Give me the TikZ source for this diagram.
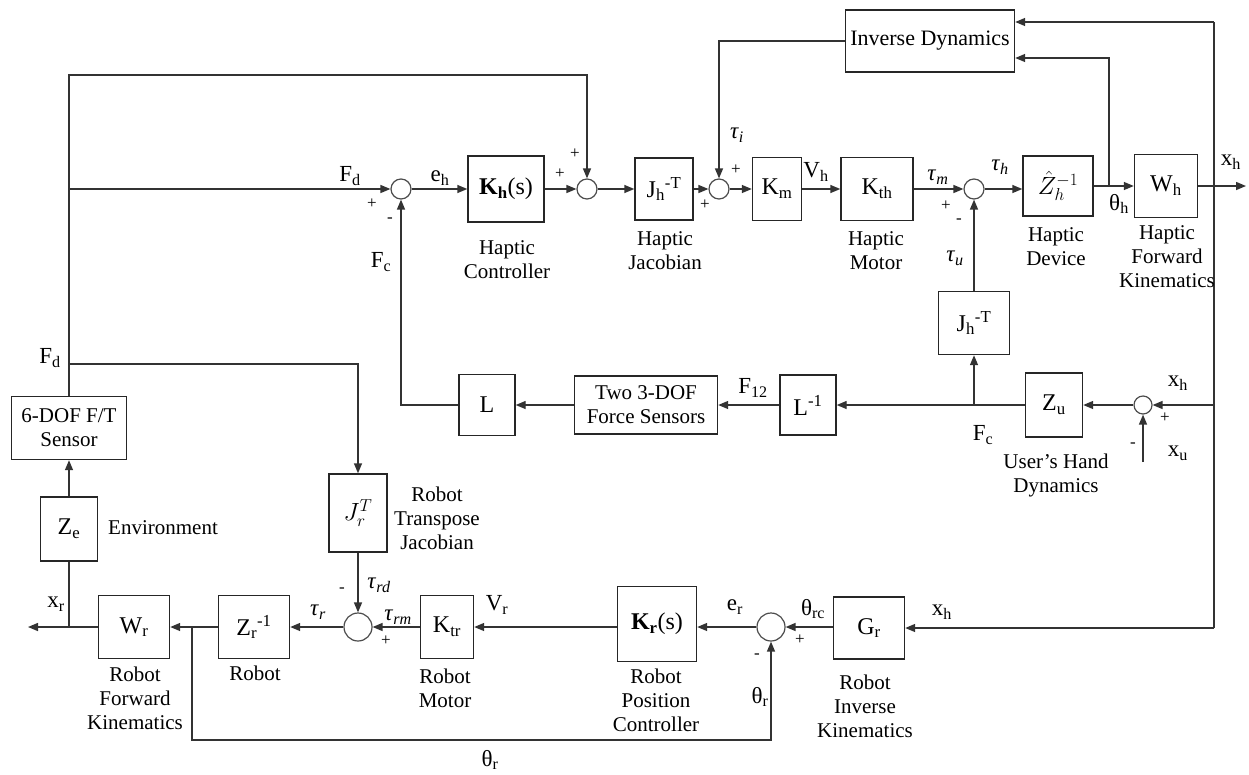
\documentclass[tikz,border=0pt]{standalone}
\usepackage{fontspec}
\setmainfont{Liberation Serif}
\usetikzlibrary{arrows.meta}
\begin{document}
\begin{tikzpicture}[x=1pt,y=-1pt,
  blk/.style={draw=black!85, line width=1.4pt, inner sep=0pt, align=center, font=\fontsize{24}{26}\selectfont},
  sumn/.style={circle, draw=black!70, line width=1.2pt, minimum size=20pt, inner sep=0pt},
  bigsum/.style={sumn, minimum size=28pt},
  ln/.style={draw=black!80, line width=1.4pt},
  arr/.style={ln, -{Triangle[length=10pt,width=8pt]}},
  capt/.style={font=\fontsize{21}{24}\selectfont, align=center, inner sep=0pt},
  sig/.style={font=\fontsize{23}{25}\selectfont, inner sep=0pt},
  pm/.style={font=\fontsize{17}{17}\selectfont, inner sep=0pt}]
\useasboundingbox (0,0) rectangle (1249,774);
% ---------- top row ----------
\node[sumn] (s1) at (401,189) {};
\node[blk, minimum width=76pt, minimum height=66pt] (kh) at (506,189) {\textbf{K\textsubscript{h}}(s)};
\node[sumn] (s2) at (587,189) {};
\node[blk, minimum width=58pt, minimum height=62pt] (jh) at (664,189) {J\textsubscript{h}\textsuperscript{-T}};
\node[sumn] (s3) at (719,189) {};
\node[blk, minimum width=49pt, minimum height=63pt] (km) at (777,189) {K\textsubscript{m}};
\node[blk, minimum width=72pt, minimum height=63pt] (kth) at (877,189) {K\textsubscript{th}};
\node[sumn] (s4) at (974,189) {};
\node[blk, minimum width=70pt, minimum height=60pt] (zh) at (1058,186) {$\hat{Z}_h^{-1}$};
\node[blk, minimum width=63pt, minimum height=63pt] (wh) at (1166,186) {W\textsubscript{h}};
\node[blk, minimum width=169pt, minimum height=62pt, font=\fontsize{22}{24}\selectfont] (inv) at (930,41) {Inverse Dynamics};
\coordinate (xout) at (1246,186);
\coordinate (xtop) at (1214,22);
\coordinate (xbot) at (1214,628);
\coordinate (thb) at (1109,186);
\coordinate (thu) at (1109,58);
% ---------- middle row ----------
\node[blk, minimum width=71pt, minimum height=63pt] (jhb) at (974,323) {J\textsubscript{h}\textsuperscript{-T}};
\node[blk, minimum width=57pt, minimum height=64pt] (zu) at (1054,405) {Z\textsubscript{u}};
\node[sumn, minimum size=18pt] (s5) at (1143,405) {};
\node[blk, minimum width=56pt, minimum height=60pt] (linv) at (808,405) {L\textsuperscript{-1}};
\node[blk, minimum width=143pt, minimum height=58pt, font=\fontsize{21}{24}\selectfont] (fs) at (646,405) {Two 3-DOF\\Force Sensors};
\node[blk, minimum width=56pt, minimum height=61pt] (lb) at (487,405) {L};
\coordinate (x5) at (1214,405);
\coordinate (xu) at (1143,462);
\coordinate (lc) at (401,405);
% ---------- left column ----------
\node[blk, minimum width=115pt, minimum height=63pt, font=\fontsize{21}{24}\selectfont] (ft) at (69,428) {6-DOF F/T\\Sensor};
\node[blk, minimum width=57pt, minimum height=64pt] (ze) at (69,529) {Z\textsubscript{e}};
\coordinate (tl) at (69,75);
\coordinate (fdj) at (69,189);
\coordinate (fdb) at (69,364);
\coordinate (fdr) at (358,364);
% ---------- bottom row ----------
\node[blk, minimum width=58pt, minimum height=78pt] (jrt) at (358,513) {$J_r^T$};
\node[bigsum] (s6) at (358,627) {};
\node[blk, minimum width=71pt, minimum height=63pt] (zr) at (254,627) {Z\textsubscript{r}\textsuperscript{-1}};
\node[blk, minimum width=71pt, minimum height=63pt] (wr) at (134,627) {W\textsubscript{r}};
\node[blk, minimum width=53pt, minimum height=63pt] (ktr) at (447,627) {K\textsubscript{tr}};
\node[blk, minimum width=79pt, minimum height=75pt] (kr) at (657,624) {\textbf{K\textsubscript{r}}(s)};
\node[bigsum] (s7) at (771,627) {};
\node[blk, minimum width=71pt, minimum height=62pt] (gr) at (869,628) {G\textsubscript{r}};
\coordinate (xrout) at (28,627);
\coordinate (xrj) at (69,627);
\coordinate (thr1) at (192,627);
\coordinate (thr2) at (192,740);
% ---------- connectors ----------
\draw[arr] (ft.north) -- (tl) -| (s2.north);
\draw[arr] (fdj) -- (s1.west);
\draw[arr] (s1.east) -- (kh.west);
\draw[arr] (kh.east) -- (s2.west);
\draw[arr] (s2.east) -- (jh.west);
\draw[arr] (jh.east) -- (s3.west);
\draw[arr] (s3.east) -- (km.west);
\draw[arr] (km.east) -- (kth.west);
\draw[arr] (kth.east) -- (s4.west);
\draw[arr] (s4.east) -- (zh.west |- s4.east);
\draw[arr] (zh.east) -- (wh.west);
\draw[arr] (wh.east) -- (xout);
\draw[arr] (inv.west) -| (s3.north);
\draw[ln] (xtop) -- (xbot);
\draw[arr] (xtop) -- (inv.east |- xtop);
\draw[arr] (thb) -- (thu) -- (inv.east |- thu);
\draw[arr] (jhb.north) -- (s4.south);
\draw[arr] (x5) -- (s5.east);
\draw[arr] (xu) -- (s5.south);
\draw[arr] (s5.west) -- (zu.east);
\draw[arr] (zu.west) -- (linv.east);
\draw[arr] (jhb.south |- zu.west) -- (jhb.south);
\draw[arr] (linv.west) -- (fs.east);
\draw[arr] (fs.west) -- (lb.east);
\draw[arr] (lb.west) -- (lc) -- (s1.south);
\draw[arr] (ze.north) -- (ft.south);
\draw[arr] (fdb) -- (fdr) -- (jrt.north);
\draw[arr] (jrt.south) -- (s6.north);
\draw[arr] (ktr.west) -- (s6.east);
\draw[arr] (s6.west) -- (zr.east);
\draw[arr] (zr.west) -- (wr.east);
\draw[arr] (wr.west) -- (xrout);
\draw[ln] (ze.south) -- (xrj);
\draw[arr] (thr1) -- (thr2) -| (s7.south);
\draw[arr] (kr.west |- s7.west) -- (ktr.east);
\draw[arr] (s7.west) -- (kr.east |- s7.west);
\draw[arr] (gr.west |- s7.east) -- (s7.east);
\draw[arr] (xbot) -- (gr.east |- xbot);
% ---------- labels ----------
\node[sig] (lFd) at (350,176) {F\textsubscript{d}};
\node[pm] (p1) at (372,204) {+};
\node[pm] (m1) at (390,220) {-};
\node[sig] (lFc) at (381,262) {F\textsubscript{c}};
\node[sig] (leh) at (440,178) {e\textsubscript{h}};
\node[pm] (p2) at (560,174) {+};
\node[pm] (p3) at (575,154) {+};
\node[capt] (c1) at (507,260) {Haptic\\Controller};
\node[capt] (c2) at (665,251) {Haptic\\Jacobian};
\node[sig] (lti) at (737,135) {\textit{τ}\textsubscript{\textit{i}}};
\node[pm] (p4) at (736,170) {+};
\node[pm] (p5) at (705,205) {+};
\node[sig] (lVh) at (816,172) {V\textsubscript{h}};
\node[capt] (c3) at (876,251) {Haptic\\Motor};
\node[sig] (ltm) at (938,177) {\textit{τ}\textsubscript{\textit{m}}};
\node[pm] (p6) at (946,206) {+};
\node[pm] (m6) at (959,221) {-};
\node[sig] (ltu) at (955,258) {\textit{τ}\textsubscript{\textit{u}}};
\node[sig] (lth) at (1000,167) {\textit{τ}\textsubscript{\textit{h}}};
\node[capt] (c4) at (1056,247) {Haptic\\Device};
\node[sig] (lthh) at (1119,204) {θ\textsubscript{h}};
\node[capt] (c5) at (1167,257) {Haptic\\Forward\\Kinematics};
\node[sig] (lxh1) at (1231,162) {x\textsubscript{h}};
\node[sig] (lF12) at (753,388) {F\textsubscript{12}};
\node[sig] (lFc2) at (983,435) {F\textsubscript{c}};
\node[sig] (lxh2) at (1178,383) {x\textsubscript{h}};
\node[pm] (p7) at (1165,418) {+};
\node[pm] (m7) at (1133,445) {-};
\node[sig] (lxu) at (1178,453) {x\textsubscript{u}};
\node[capt] (c6) at (1056,475) {User’s Hand\\Dynamics};
\node[sig] (lFd2) at (50,358) {F\textsubscript{d}};
\node[capt] (c7) at (163,528) {Environment};
\node[capt] (c8) at (437,518) {Robot\\Transpose\\Jacobian};
\node[sig] (ltrd) at (379,585) {\textit{τ}\textsubscript{\textit{rd}}};
\node[pm] (m8) at (342,590) {-};
\node[sig] (ltrm) at (398,617) {\textit{τ}\textsubscript{\textit{rm}}};
\node[pm] (p8) at (386,641) {+};
\node[sig] (ltr) at (318,612) {\textit{τ}\textsubscript{\textit{r}}};
\node[capt] (c9) at (255,673) {Robot};
\node[sig] (lxr) at (56,604) {x\textsubscript{r}};
\node[capt] (c10) at (135,698) {Robot\\Forward\\Kinematics};
\node[capt] (c11) at (445,688) {Robot\\Motor};
\node[sig] (lVr) at (497,605) {V\textsubscript{r}};
\node[capt] (c12) at (656,700) {Robot\\Position\\Controller};
\node[sig] (ler) at (735,607) {e\textsubscript{r}};
\node[pm] (m9) at (757,656) {-};
\node[pm] (p9) at (800,640) {+};
\node[sig] (lthr) at (760,697) {θ\textsubscript{r}};
\node[sig] (lthrc) at (813,609) {θ\textsubscript{rc}};
\node[capt] (c13) at (865,706) {Robot\\Inverse\\Kinematics};
\node[sig] (lxh3) at (942,612) {x\textsubscript{h}};
\node[sig] (lthr2) at (490,760) {θ\textsubscript{r}};
\end{tikzpicture}
\end{document}
